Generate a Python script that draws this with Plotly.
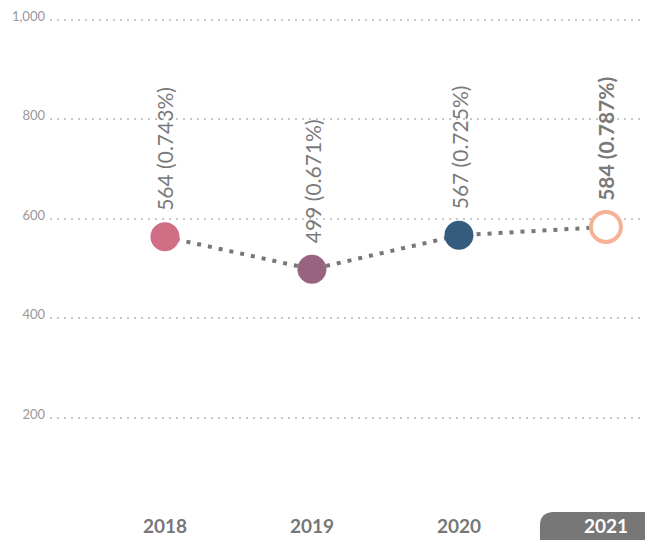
import plotly.graph_objects as go

years = ['2018', '2019', '2020', '2021']
counts = [564, 499, 567, 584]
shares = ['0.743%', '0.671%', '0.725%', '0.787%']
y_ticks = [200, 400, 600, 800, 1000]
y_tick_text = ['200', '400', '600', '800', '1,000']

point_colors = ['#D06E86', '#98637F', '#355C7D', '#FFFFFF']
outline_colors = ['#D06E86', '#98637F', '#355C7D', '#F7B196']
GRAY = '#777777'
FONT = 'Lato'

fig = go.Figure()
fig.add_trace(go.Scatter(
    x=years, y=counts,
    mode='lines+markers',
    line=dict(color=GRAY, width=4, dash='4px,7px'),
    marker=dict(size=[29, 29, 29, 30], color=point_colors,
                line=dict(color=outline_colors, width=[0, 0, 0, 4]),
                opacity=1),
    hoverinfo='skip',
    showlegend=False,
))

# rotated value labels above each point (category axis -> use the index)
for i, (c, s) in enumerate(zip(counts, shares)):
    last = i == len(counts) - 1
    fig.add_annotation(
        x=i, y=c, text=f'{c} ({s})', textangle=-90,
        showarrow=False, xanchor='center', yanchor='bottom', yshift=24,
        font=dict(family=FONT, size=21, color='#7A7A7A',
                  weight='bold' if last else 'normal'),
    )

# pill behind the current year tick label
fig.add_shape(
    type='path', xref='x', yref='paper',
    xsizemode='pixel', ysizemode='pixel', xanchor=3, yanchor=0,
    path='M -52,-4 L 80,-4 L 80,-44 L -52,-44 Q -66,-44 -66,-30 L -66,-18 Q -66,-4 -52,-4 Z',
    fillcolor=GRAY, line=dict(width=0), layer='below',
)

tick_labels = [f'<b>{y}</b>' for y in years[:-1]] + \
    [f'<b><span style="color:white">{years[-1]}</span></b>']

# page body adds an 8px offset, so the figure runs past the window edges
fig.update_layout(
    width=661, height=548,
    margin=dict(l=42, r=0, t=0, b=48),
    plot_bgcolor='white', paper_bgcolor='white',
    font=dict(family=FONT, color=GRAY),
    xaxis=dict(
        type='category', range=[-0.782, 3.429], automargin=False,
        showgrid=False, zeroline=False, showline=False,
        tickvals=years, ticktext=tick_labels,
        tickfont=dict(family=FONT, size=19, color=GRAY),
        ticks='', ticklen=0, ticklabelstandoff=5,
    ),
    yaxis=dict(
        range=[19, 1024], automargin=False,
        tickvals=y_ticks, ticktext=y_tick_text,
        showgrid=True, gridcolor='#C8C8C8', gridwidth=1.5, griddash='2px,5px',
        zeroline=False, showline=False,
        tickfont=dict(family=FONT, size=13, color='#999999'),
        ticklabelshift=-4, ticklabelstandoff=4, ticklabeloverflow='allow',
    ),
)

fig.write_html('out.html')
